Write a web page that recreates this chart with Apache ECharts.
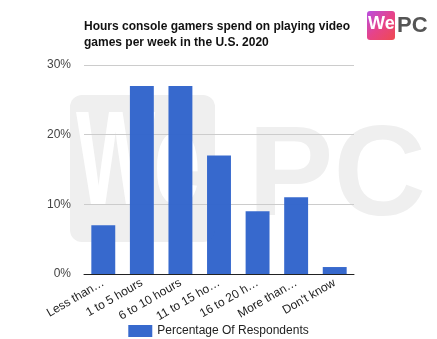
<!DOCTYPE html>
<html><head><meta charset="utf-8">
<script src="https://cdn.jsdelivr.net/npm/echarts@6/dist/echarts.min.js"></script>
<style>html,body{margin:0;padding:0;background:#fff}#c{width:437px;height:339px}</style>
</head><body><div id="c"></div>
<script>
const categories = ["Less than…", "1 to 5 hours", "6 to 10 hours", "11 to 15 ho…", "16 to 20 h…", "More than…", "Don't know"];
const seriesName = "Percentage Of Respondents";
const values = [7, 27, 27, 17, 9, 11, 1];
const yTicks = [0, 10, 20, 30];
const titleText = "Hours console gamers spend on playing video\ngames per week in the U.S. 2020";

const chart = echarts.init(document.getElementById('c'));
const font = '"Liberation Sans", Arial, sans-serif';
chart.setOption({
  animation: false,
  textStyle: {fontFamily: font},
  graphic: [
    {type: 'rect', z: -10, shape: {x: 70, y: 95, width: 145, height: 147, r: 12}, style: {fill: '#efefef'}},
    {type: 'text', z: -9, x: 76, y: 100, scaleY: 1.6, style: {text: 'We', font: 'bold 84px ' + font, fill: '#ffffff'}},
    {type: 'text', z: -10, left: 248, top: 116, style: {text: 'PC', font: 'bold 128px ' + font, fill: '#efefef'}},
    {type: 'rect', shape: {x: 367, y: 11, width: 28, height: 29, r: 3}, style: {fill: new echarts.graphic.LinearGradient(0, 0, 1, 1, [{offset: 0, color: '#b84ee0'}, {offset: 0.5, color: '#e6438a'}, {offset: 1, color: '#ef4a50'}])}},
    {type: 'text', left: 368, top: 15, style: {text: 'We', font: 'bold 18px ' + font, fill: '#ffffff'}},
    {type: 'text', left: 397, top: 15, style: {text: 'PC', font: 'bold 22px ' + font, fill: '#555555'}}
  ],
  title: {
    text: titleText, left: 79, top: 14,
    textStyle: {fontSize: 12, fontWeight: 'bold', color: '#111', lineHeight: 16, fontFamily: font}
  },
  legend: {
    top: 320, left: 'center', itemWidth: 24, itemHeight: 12, icon: 'rect',
    textStyle: {fontSize: 12, color: '#222', fontFamily: font},
    data: [seriesName]
  },
  grid: {left: 84, right: 83, top: 65, bottom: 65},
  xAxis: {
    type: 'category', data: categories,
    axisLine: {lineStyle: {color: '#222', width: 1}},
    axisTick: {show: false},
    axisLabel: {rotate: 30, interval: 0, fontSize: 12, color: '#222', margin: 8, fontFamily: font}
  },
  yAxis: {
    type: 'value', min: yTicks[0], max: yTicks[yTicks.length - 1], interval: 10,
    axisLine: {show: false}, axisTick: {show: false},
    axisLabel: {formatter: '{value}%', fontSize: 12, color: '#444', margin: 13, fontFamily: font},
    splitLine: {lineStyle: {color: '#cccccc'}}
  },
  series: [{
    name: seriesName, type: 'bar', data: values, barWidth: '62%',
    itemStyle: {color: '#3366cc', opacity: 0.98}
  }]
});
</script></body></html>
